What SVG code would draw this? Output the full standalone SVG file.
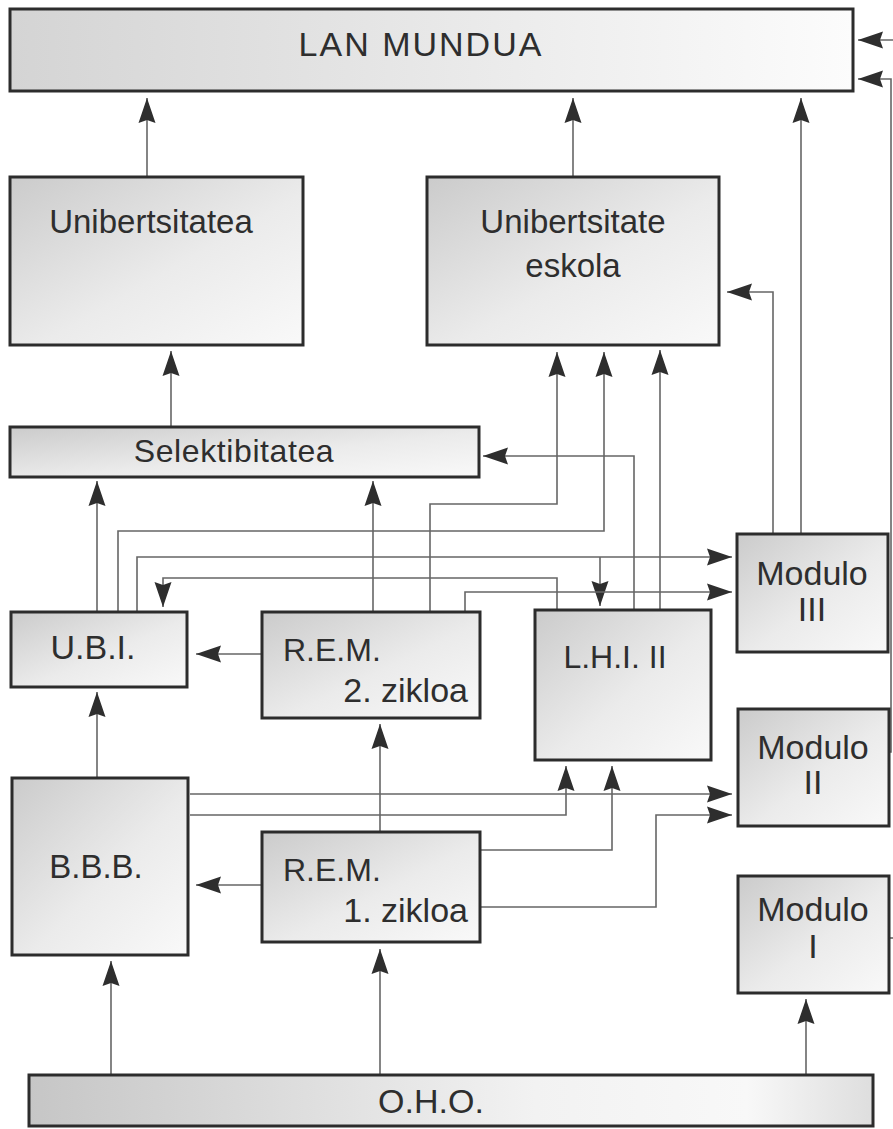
<svg xmlns="http://www.w3.org/2000/svg" width="893" height="1129" viewBox="0 0 893 1129">
<defs>
<linearGradient id="g" x1="0" y1="0" x2="1" y2="1">
<stop offset="0" stop-color="#cbcbcb"/>
<stop offset="0.55" stop-color="#ebebeb"/>
<stop offset="1" stop-color="#f9f9f9"/>
</linearGradient>
<linearGradient id="gh" x1="0" y1="0" x2="1" y2="0">
<stop offset="0" stop-color="#d4d4d4"/>
<stop offset="1" stop-color="#fcfcfc"/>
</linearGradient>
<linearGradient id="go" x1="0" y1="0" x2="1" y2="0">
<stop offset="0" stop-color="#c6c6c6"/>
<stop offset="0.6" stop-color="#f2f2f2"/>
<stop offset="0.85" stop-color="#f8f8f8"/>
<stop offset="1" stop-color="#dedede"/>
</linearGradient>
<marker id="a" markerUnits="userSpaceOnUse" markerWidth="26" markerHeight="18" refX="25" refY="9" orient="auto">
<path d="M0,0.5 L25,9 L0,17.5 L3,9 z" fill="#2e2e2e"/>
</marker>
</defs>
<style>
.box{fill:url(#g);stroke:#2c2c2c;stroke-width:3}
.t{font-family:"Liberation Sans",Arial,sans-serif;fill:#2e2e2e}
.c{fill:none;stroke:#666666;stroke-width:1.6}
.c path{marker-end:url(#a)}
</style>
<rect width="893" height="1129" fill="#ffffff"/>

<g id="connectors" class="c">
<path d="M147,177 V98"/>
<path d="M573,177 V98"/>
<path d="M801,534 V98"/>
<path d="M773,534 V292 H727"/>
<path d="M893,40 H858"/>
<path d="M889,752 H891 V79 H858"/>
<line x1="889" y1="938" x2="893" y2="938"/>
<path d="M171,427 V351"/>
<path d="M97,612 V481"/>
<path d="M118,612 V531 H604 V352"/>
<path d="M137,612 V557 H732"/>
<path d="M600,557 V606"/>
<path d="M557,610 V578 H163 V607"/>
<path d="M373,612 V481"/>
<path d="M430,612 V504 H557 V352"/>
<path d="M465,612 V592 H732"/>
<path d="M634,610 V456 H483"/>
<path d="M660,610 V350"/>
<path d="M262,654 H196"/>
<path d="M97,778 V692"/>
<path d="M190,794 H732"/>
<path d="M190,815 H566 V766"/>
<path d="M480,850 H612 V766"/>
<path d="M480,907 H656 V815 H732"/>
<path d="M380,832 V724"/>
<path d="M262,885 H196"/>
<path d="M111,1075 V961"/>
<path d="M380,1075 V949"/>
<path d="M806,1075 V999"/>
</g>

<g id="lan-mundua">
<rect x="10" y="9" width="843" height="82" fill="url(#gh)" stroke="#2c2c2c" stroke-width="3"/>
<text class="t" x="421" y="56" text-anchor="middle" style="font-size:34px;letter-spacing:2px">LAN MUNDUA</text>
</g>
<g id="unibertsitatea">
<rect class="box" x="10" y="177" width="293" height="168"/>
<text class="t" x="151" y="233" text-anchor="middle" style="font-size:33px">Unibertsitatea</text>
</g>
<g id="unibertsitate-eskola">
<rect class="box" x="427" y="177" width="292" height="168"/>
<text class="t" x="573" y="233" text-anchor="middle" style="font-size:33px">Unibertsitate</text>
<text class="t" x="573" y="277" text-anchor="middle" style="font-size:33px">eskola</text>
</g>
<g id="selektibitatea">
<rect class="box" x="10" y="427" width="469" height="50"/>
<text class="t" x="234" y="462" text-anchor="middle" style="font-size:32px;letter-spacing:0.6px">Selektibitatea</text>
</g>
<g id="ubi">
<rect class="box" x="11" y="612" width="176" height="75"/>
<text class="t" x="93" y="659" text-anchor="middle" style="font-size:34px">U.B.I.</text>
</g>
<g id="rem2">
<rect class="box" x="262" y="612" width="218" height="106"/>
<text class="t" x="283" y="661" style="font-size:32px">R.E.M.</text>
<text class="t" x="468" y="702" text-anchor="end" style="font-size:34px">2. zikloa</text>
</g>
<g id="lhi2">
<rect class="box" x="535" y="610" width="176" height="150"/>
<text class="t" x="615" y="668" text-anchor="middle" style="font-size:32px">L.H.I. II</text>
</g>
<g id="modulo3">
<rect class="box" x="737" y="534" width="151" height="118"/>
<text class="t" x="812" y="585" text-anchor="middle" style="font-size:34px">Modulo</text>
<text class="t" x="812" y="621" text-anchor="middle" style="font-size:34px">III</text>
</g>
<g id="modulo2">
<rect class="box" x="738" y="709" width="151" height="117"/>
<text class="t" x="813" y="759" text-anchor="middle" style="font-size:34px">Modulo</text>
<text class="t" x="813" y="794" text-anchor="middle" style="font-size:34px">II</text>
</g>
<g id="modulo1">
<rect class="box" x="738" y="876" width="151" height="117"/>
<text class="t" x="813" y="921" text-anchor="middle" style="font-size:34px">Modulo</text>
<text class="t" x="813" y="958" text-anchor="middle" style="font-size:34px">I</text>
</g>
<g id="bbb">
<rect class="box" x="12" y="778" width="176" height="177"/>
<text class="t" x="96" y="878" text-anchor="middle" style="font-size:33px">B.B.B.</text>
</g>
<g id="rem1">
<rect class="box" x="262" y="832" width="218" height="110"/>
<text class="t" x="283" y="881" style="font-size:32px">R.E.M.</text>
<text class="t" x="468" y="922" text-anchor="end" style="font-size:34px">1. zikloa</text>
</g>
<g id="oho">
<rect x="29" y="1075" width="844" height="51" fill="url(#go)" stroke="#2c2c2c" stroke-width="3"/>
<text class="t" x="431" y="1113" text-anchor="middle" style="font-size:34px">O.H.O.</text>
</g>
</svg>
